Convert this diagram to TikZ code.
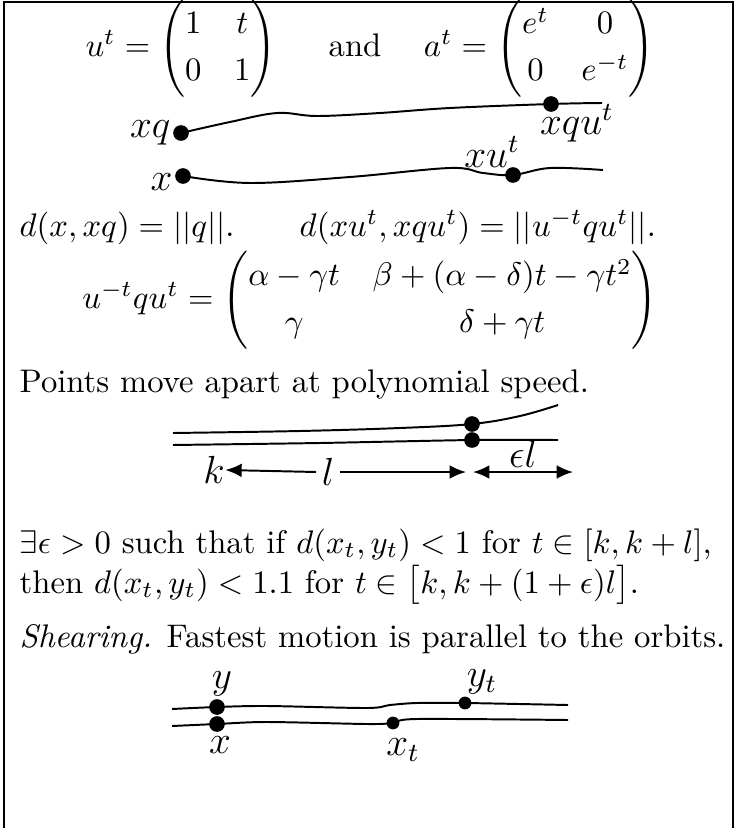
\documentclass[tikz,border=0pt]{standalone}
\usepackage{amsmath}
\usetikzlibrary{arrows.meta}
\begin{document}
\begin{tikzpicture}[x=0.306pt,y=-0.306pt,
  dot/.style={circle,fill,inner sep=0pt,minimum size=4.8pt},
  sdot/.style={circle,fill,inner sep=0pt,minimum size=3.9pt},
  orbit/.style={line width=0.6pt},
  txt/.style={anchor=base west,inner sep=0pt},
  lbl/.style={inner sep=0pt,font=\large},
  mat/.style={inner sep=0pt},
  dimarrow/.style={line width=0.6pt,-{Latex[length=5pt,width=4.2pt]}}]
\useasboundingbox (0,0) rectangle (735,828);
\draw[line width=0.7pt] (4,828) -- (4,2) -- (733,2) -- (733,828);

% first equation
\node[mat] (eq1) at (370,48) {\renewcommand{\arraystretch}{1.2}$u^t = \begin{pmatrix}1&t\\0&1\end{pmatrix}$\hspace{16pt}and\hspace{13pt}$a^t=\begin{pmatrix}e^t&0\\0&e^{-t}\end{pmatrix}$};

% picture 1
\node[dot] (xq) at (181,133) {};
\node[dot] (xqut) at (551,104) {};
\node[dot] (x) at (183,176) {};
\node[dot] (xut) at (513,175) {};
\coordinate (uend) at (602,103);
\coordinate (lend) at (603,170);
\draw[orbit] plot[smooth,tension=0.6] coordinates {(xq) (230,122) (277,113) (317,116) (380,113) (450,108) (xqut) (uend)};
\draw[orbit] plot[smooth,tension=0.6] coordinates {(x) (250,183) (350,177) (450,168) (483,173) (xut) (550,168) (lend)};
\node[lbl,anchor=east] (lxq) at (171,133) {$xq$};
\node[lbl,anchor=east] (lx) at (173,182) {$x$};
\node[lbl] (lxut) at (492,152) {$xu^t$};
\node[lbl] (lxqut) at (577,123) {$xqu^t$};

% distance line
\node[txt] (dl) at (19,236) {$d(x,xq)=||q||.$\qquad$d(xu^t,xqu^t)=||u^{-t}qu^t||.$};

% second matrix
\node[mat] (eq2) at (370,300) {\renewcommand{\arraystretch}{1.2}$u^{-t}qu^t = \begin{pmatrix}\alpha-\gamma t & \beta+(\alpha-\delta)t-\gamma t^2\\ \gamma & \delta+\gamma t\end{pmatrix}$};

\node[txt] (p1) at (19,392) {Points move apart at polynomial speed.};

% picture 2
\node[dot] (a1) at (472,424) {};
\node[dot] (b1) at (472,440) {};
\coordinate (a0) at (173,433);
\coordinate (a2) at (558,405);
\coordinate (b0) at (173,445);
\coordinate (b2) at (558,440);
\draw[orbit] plot[smooth,tension=0.6] coordinates {(a0) (300,431) (400,428) (a1) (520,416) (a2)};
\draw[orbit] plot[smooth,tension=0.4] coordinates {(b0) (320,443) (b1) (b2)};
\node[lbl] (k) at (214,470) {$k$};
\node[lbl] (l) at (328,472) {$l$};
\coordinate (lr) at (466,472);
\coordinate (e1) at (473,472);
\coordinate (e2) at (573,472);
\draw[dimarrow] (l.west) ++(-5,0) -- (k.east);
\draw[dimarrow] (l.east) ++(5,0) -- (lr);
\draw[line width=0.6pt,{Latex[length=5pt,width=4.2pt]}-{Latex[length=5pt,width=4.2pt]}] (e1) -- node[lbl,above=1pt] (el) {$\epsilon l$} (e2);

\node[txt] (t1) at (19,553) {$\exists\epsilon>0$ such that if $d(x_t,y_t)<1$ for $t\in[k,k+l]$,};
\node[txt] (t2) at (19,593) {then $d(x_t,y_t)<1.1$ for $t\in\bigl[k,k+(1+\epsilon)l\bigr]$.};
\node[txt] (s1) at (19,647) {\textit{Shearing.} Fastest motion is parallel to the orbits.};

% picture 3
\node[dot] (y) at (217,707) {};
\node[dot] (x0) at (217,724) {};
\node[sdot] (yt) at (465,703) {};
\node[sdot] (xt) at (393,723) {};
\coordinate (c0) at (172,709);
\coordinate (c1) at (568,705);
\coordinate (d0) at (172,726);
\coordinate (d1) at (568,720);
\draw[orbit] plot[smooth,tension=0.5] coordinates {(c0) (y) (267,706) (367,708) (390,705) (417,703) (yt) (c1)};
\draw[orbit] plot[smooth,tension=0.5] coordinates {(d0) (x0) (267,722) (367,724) (xt) (417,719) (d1)};
\node[lbl] (ly) at (222,684) {$y$};
\node[lbl] (lx0) at (220,745) {$x$};
\node[lbl] (lyt) at (482,682) {$y_t$};
\node[lbl] (lxt) at (403,750) {$x_t$};
\end{tikzpicture}
\end{document}
